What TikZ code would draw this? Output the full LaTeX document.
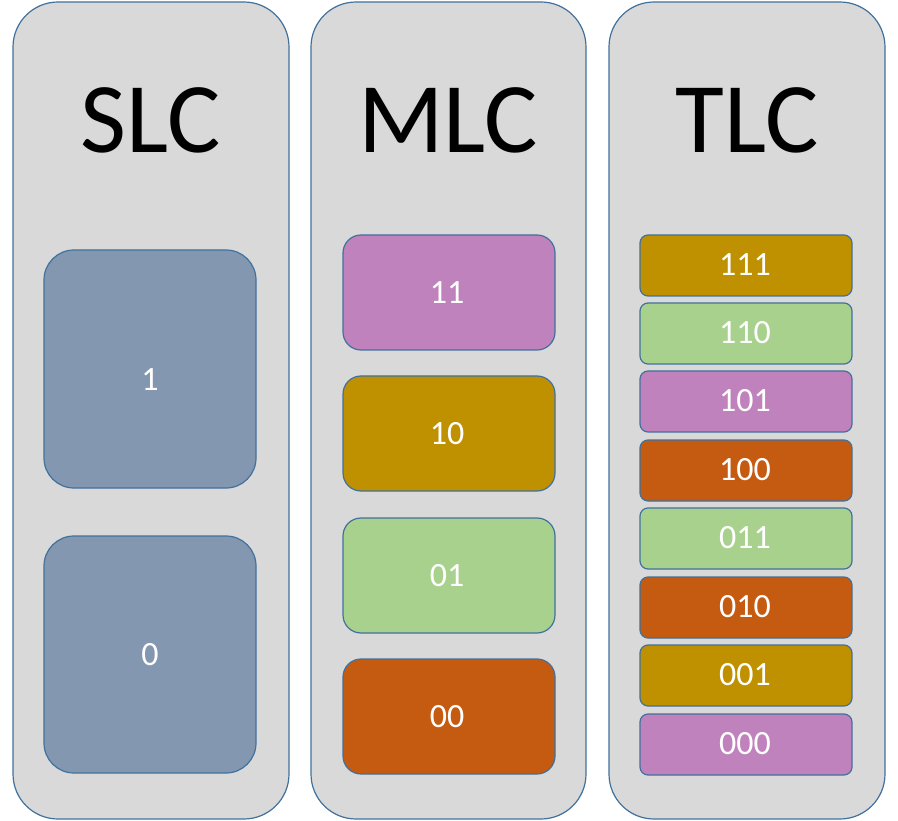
\documentclass[tikz,border=0pt]{standalone}
\usepackage{fontspec}
\setmainfont{Carlito}
\definecolor{panel}{HTML}{D9D9D9}
\definecolor{edge}{HTML}{41719C}
\definecolor{slate}{HTML}{8497B0}
\definecolor{purp}{HTML}{C082BC}
\definecolor{gold}{HTML}{BF9000}
\definecolor{grn}{HTML}{A9D18E}
\definecolor{orng}{HTML}{C55A11}
\begin{document}
\begin{tikzpicture}[x=1pt,y=-1pt,
  pan/.style={draw=edge,fill=panel,line width=1.2pt,rounded corners=45pt},
  cell/.style={draw=edge,line width=1.2pt},
  ttl/.style={font=\fontsize{100}{100}\selectfont},
  lbl/.style={text=white,font=\fontsize{34}{34}\selectfont}]
\useasboundingbox (0,0) rectangle (898,821);
\draw[pan] (13,2) rectangle (289,819);
\draw[pan] (311,2) rectangle (586,819);
\draw[pan] (609,2) rectangle (885,819);
\node[ttl] (t1) at (151,120) {SLC};
\node[ttl] (t2) at (448,120) {MLC};
\node[ttl] (t3) at (747,120) {TLC};
% SLC
\draw[cell,fill=slate,rounded corners=30pt] (44,250) rectangle (256,488);
\node[lbl] (s1) at (150,380) {1};
\draw[cell,fill=slate,rounded corners=30pt] (44,536) rectangle (256,773);
\node[lbl] (s0) at (150,655) {0};
% MLC
\foreach \y/\c/\t in {235/purp/11,376/gold/10,518/grn/01,659/orng/00}{
  \draw[cell,fill=\c,rounded corners=18pt] (343,\y) rectangle (555,\y+115);
  \node[lbl] (m\t) at (447,\y+58) {\t};
}
% TLC
\foreach \y/\c/\t in {235/gold/111,303/grn/110,371/purp/101,440/orng/100,508/grn/011,577/orng/010,645/gold/001,714/purp/000}{
  \draw[cell,fill=\c,rounded corners=8pt] (640,\y) rectangle (852,\y+61);
  \node[lbl] (c\t) at (745,\y+30) {\t};
}
\end{tikzpicture}
\end{document}
